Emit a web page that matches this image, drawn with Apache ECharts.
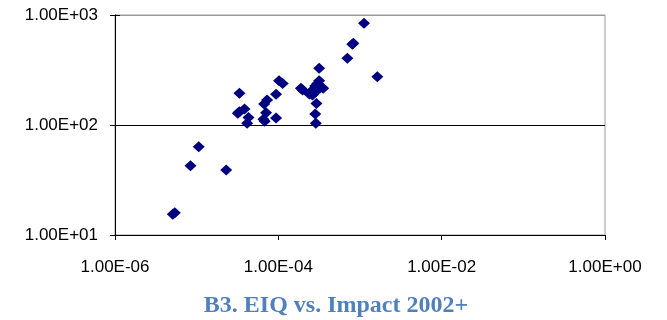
<!DOCTYPE html>
<html>
<head>
<meta charset="utf-8">
<script src="https://cdn.jsdelivr.net/npm/echarts@6/dist/echarts.min.js"></script>
<style>
  html, body { margin: 0; padding: 0; background: #fff; }
  #chart { width: 667px; height: 320px; }
</style>
</head>
<body>
<div id="chart"></div>
<script>
// EIQ (x) against Impact 2002+ (y), both on log scales
const eiqValues = [
  5.1e-6, 5.4e-6, 8.4e-6, 1.06e-5, 2.3e-5,
  3.34e-5, 3.19e-5, 3.34e-5, 3.85e-5, 4.31e-5, 4.15e-5,
  6.7e-5, 7.28e-5, 7.08e-5, 6.56e-5, 6.81e-5,
  9.38e-5, 9.38e-5, 1.02e-4, 1.13e-4,
  1.89e-4, 1.98e-4, 3.16e-4,
  2.39e-4, 2.62e-4, 2.83e-4, 3.01e-4, 3.16e-4, 3.54e-4, 2.88e-4, 3.23e-4, 2.62e-4,
  2.93e-4, 2.83e-4, 2.88e-4,
  7.0e-4, 8.05e-4, 8.3e-4, 1.12e-3, 1.63e-3
];
const impactValues = [
  15.4, 15.9, 42.7, 63.5, 39.0,
  194, 128, 132, 140, 117, 104,
  155, 169, 129, 113, 108,
  190, 116, 253, 239,
  216, 208, 328,
  191, 208, 226, 239, 253, 216, 201, 220, 187,
  157, 126, 104,
  404, 542, 555, 841, 275
];

const xTickLabels = ['1.00E-06', '1.00E-04', '1.00E-02', '1.00E+00'];
const yTickLabels = ['1.00E+01', '1.00E+02', '1.00E+03'];
const chartTitle = 'B3. EIQ vs. Impact 2002+';

const points = eiqValues.map((x, i) => [x, impactValues[i]]);

function labelFor(list, minExp, step) {
  return function (v) {
    const idx = Math.round((Math.log10(v) - minExp) / step);
    return list[idx] !== undefined ? list[idx] : '';
  };
}

const axisFont = '"Liberation Sans", Arial, sans-serif';

const chart = echarts.init(document.getElementById('chart'), null, { renderer: 'canvas' });
chart.setOption({
  animation: false,
  backgroundColor: '#ffffff',
  title: {
    text: chartTitle,
    left: 331, top: 289,
    textAlign: 'center',
    textStyle: {
      fontFamily: '"Liberation Serif", "Times New Roman", serif',
      fontWeight: 'bold',
      fontSize: 24,
      color: '#4f81bd'
    }
  },
  grid: {
    left: 115, right: 62, top: 15, bottom: 85,
    show: true,
    borderColor: '#9a9a9a',
    borderWidth: 1,
    backgroundColor: '#ffffff'
  },
  xAxis: {
    type: 'log',
    logBase: 10,
    min: 1e-6,
    max: 1,
    interval: 2,
    axisLine: { lineStyle: { color: '#000', width: 1 } },
    axisTick: { show: true, length: 5, lineStyle: { color: '#000' } },
    minorTick: { show: false },
    splitLine: { show: false },
    axisLabel: {
      margin: 24,
      color: '#000',
      fontFamily: axisFont,
      fontSize: 17,
      formatter: labelFor(xTickLabels, -6, 2)
    }
  },
  yAxis: [{
    type: 'log',
    logBase: 10,
    min: 10,
    max: 1000,
    interval: 1,
    axisLine: { show: true, lineStyle: { color: '#000', width: 1 } },
    axisTick: { show: true, length: 5, lineStyle: { color: '#000' } },
    splitLine: { show: true, lineStyle: { color: ['#000', '#000', '#9a9a9a'], width: 1 } },
    axisLabel: {
      margin: 17,
      color: '#000',
      fontFamily: axisFont,
      fontSize: 17,
      formatter: labelFor(yTickLabels, 1, 1)
    }
  }, {
    // inner half of the cross-style ticks on the value axis
    type: 'log',
    logBase: 10,
    min: 10,
    max: 1000,
    interval: 1,
    position: 'left',
    offset: 0,
    axisLine: { show: false },
    axisTick: { show: true, inside: true, length: 5, lineStyle: { color: '#000' } },
    splitLine: { show: false },
    axisLabel: { show: false }
  }],
  series: [{
    type: 'scatter',
    data: points,
    symbol: 'diamond',
    symbolSize: [12, 11],
    itemStyle: { color: '#000080', opacity: 1 }
  }]
});
</script>
</body>
</html>
